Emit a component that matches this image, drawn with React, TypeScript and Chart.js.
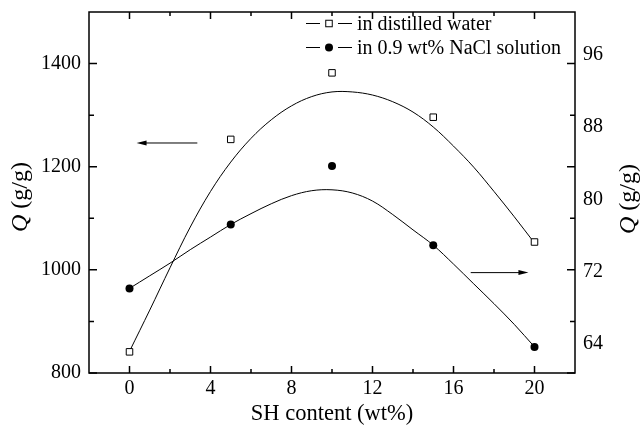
import React, { useEffect, useRef } from "react";
import { Chart, registerables } from "chart.js";

Chart.register(...registerables);

// ---- data ----
const sampleContent = [0, 5, 10, 15, 20];
const waterQ = [841, 1253, 1382, 1296, 1054];
const salineQ = [70.1, 77.2, 83.7, 74.9, 63.6];

const fitContent = [0, 1, 2, 3, 4, 5, 6, 7, 8, 9, 10, 11, 12, 13, 14, 15, 16, 17, 18, 19, 20];
const waterFit = [842, 922, 1004, 1083, 1152, 1209, 1255, 1291, 1318, 1336, 1345, 1345, 1339, 1326, 1306, 1277, 1240, 1199, 1152, 1103, 1052];
const salineFit = [70.1, 71.5, 72.9, 74.4, 75.8, 77.2, 78.4, 79.5, 80.4, 80.95, 81.05, 80.7, 79.8, 78.3, 76.6, 74.9, 72.8, 70.6, 68.4, 66.1, 63.6];

const xTickValues = [0, 4, 8, 12, 16, 20];
const leftTickValues = [800, 1000, 1200, 1400];
const rightTickValues = [64, 72, 80, 88, 96];

const legendLabels = ["in distilled water", "in 0.9 wt% NaCl solution"];
const xTitle = "SH content (wt%)";
const yTitleItalic = "Q";
const yTitleRest = " (g/g)";

// arrows pointing to the axis each series belongs to (data coordinates)
const leftArrow = { axis: "y", fromX: 3.35, toX: 0.35, value: 1246 };
const rightArrow = { axis: "y1", fromX: 16.85, toX: 19.7, value: 71.85 };

const FONT = '"Liberation Serif", "Times New Roman", Times, serif';

function minorValues(major: number[], min: number, max: number) {
  const step = major[1] - major[0];
  const half = step / 2;
  const out: number[] = [];
  for (let v = major[0] - half; v > min; v -= step) out.push(v);
  for (const m of major) {
    if (m + half < max) out.push(m + half);
  }
  return out;
}

const decor = {
  id: "decor",
  afterDraw(chart: any) {
    const { ctx, chartArea: a, scales } = chart;
    const sx = scales.x;
    const sy = scales.y;
    ctx.save();
    ctx.strokeStyle = "#000";
    ctx.fillStyle = "#000";

    // inward tick marks
    ctx.lineWidth = 1.5;
    const majLen = 7;
    const minLen = 4;
    const xMaj = sx.ticks.map((t: any) => t.value);
    const xMin = minorValues(xMaj, sx.min, sx.max);
    const drawX = (v: number, len: number) => {
      const p = sx.getPixelForValue(v);
      ctx.beginPath();
      ctx.moveTo(p, a.bottom);
      ctx.lineTo(p, a.bottom - len);
      ctx.moveTo(p, a.top);
      ctx.lineTo(p, a.top + len);
      ctx.stroke();
    };
    xMaj.forEach((v: number) => drawX(v, majLen));
    xMin.forEach((v: number) => drawX(v, minLen));

    const yMaj = sy.ticks.map((t: any) => t.value);
    const yMin = minorValues(yMaj, sy.min, sy.max);
    const drawY = (v: number, len: number) => {
      const p = sy.getPixelForValue(v);
      ctx.beginPath();
      ctx.moveTo(a.left, p);
      ctx.lineTo(a.left + len, p);
      ctx.moveTo(a.right, p);
      ctx.lineTo(a.right - len, p);
      ctx.stroke();
    };
    yMaj.forEach((v: number) => drawY(v, majLen + 1));
    yMin.forEach((v: number) => drawY(v, minLen + 1));

    // frame
    ctx.lineWidth = 1.5;
    ctx.strokeRect(a.left, a.top, a.right - a.left, a.bottom - a.top);

    // arrows
    const drawArrow = (ar: any) => {
      const s = scales[ar.axis];
      const py = s.getPixelForValue(ar.value);
      const x0 = sx.getPixelForValue(ar.fromX);
      const x1 = sx.getPixelForValue(ar.toX);
      const dir = Math.sign(x1 - x0);
      ctx.lineWidth = 1;
      ctx.beginPath();
      ctx.moveTo(x0, py);
      ctx.lineTo(x1 - dir * 6, py);
      ctx.stroke();
      ctx.beginPath();
      ctx.moveTo(x1, py);
      ctx.lineTo(x1 - dir * 10, py - 2.5);
      ctx.lineTo(x1 - dir * 10, py + 2.5);
      ctx.closePath();
      ctx.fill();
    };
    drawArrow(leftArrow);
    drawArrow(rightArrow);

    // legend
    const rows = [23.5, 47.5];
    ctx.font = `20px ${FONT}`;
    ctx.textBaseline = "middle";
    ctx.textAlign = "left";
    legendLabels.forEach((label, i) => {
      const yy = rows[i];
      ctx.lineWidth = 1;
      ctx.strokeStyle = "#000";
      ctx.beginPath();
      ctx.moveTo(306, yy);
      ctx.lineTo(320, yy);
      ctx.moveTo(338, yy);
      ctx.lineTo(352, yy);
      ctx.stroke();
      if (i === 0) {
        ctx.fillStyle = "#fff";
        ctx.fillRect(325.75, yy - 3.25, 6.5, 6.5);
        ctx.strokeRect(325.75, yy - 3.25, 6.5, 6.5);
      } else {
        ctx.fillStyle = "#000";
        ctx.beginPath();
        ctx.arc(329, yy, 4, 0, Math.PI * 2);
        ctx.fill();
      }
      ctx.fillStyle = "#000";
      ctx.fillText(label, 357, yy + 1);
    });

    // rotated y-axis titles with italic Q
    const drawYTitle = (cx: number, cy: number) => {
      ctx.save();
      ctx.translate(cx, cy);
      ctx.rotate(-Math.PI / 2);
      ctx.textBaseline = "middle";
      ctx.textAlign = "left";
      ctx.font = `italic 24px ${FONT}`;
      const w1 = ctx.measureText(yTitleItalic).width;
      ctx.font = `24px ${FONT}`;
      const w2 = ctx.measureText(yTitleRest).width;
      const start = -(w1 + w2) / 2;
      ctx.font = `italic 24px ${FONT}`;
      ctx.fillText(yTitleItalic, start, 0);
      ctx.font = `24px ${FONT}`;
      ctx.fillText(yTitleRest, start + w1, 0);
      ctx.restore();
    };
    drawYTitle(21, 197);
    drawYTitle(629, 199);

    ctx.restore();
  },
};

const noPad = (s: any) => {
  s.paddingTop = 0;
  s.paddingBottom = 0;
  s.paddingLeft = 0;
  s.paddingRight = 0;
};

export default function App() {
  const ref = useRef<HTMLCanvasElement>(null);

  useEffect(() => {
    const tickFont = { family: FONT, size: 20 };
    const plain = (v: any) => String(v);
    const chart = new Chart(ref.current as HTMLCanvasElement, {
      type: "scatter",
      data: {
        datasets: [
          {
            label: legendLabels[0],
            data: sampleContent.map((x, i) => ({ x, y: waterQ[i] })),
            yAxisID: "y",
            pointStyle: "rect",
            pointRadius: 4.6,
            pointBorderWidth: 1,
            pointBorderColor: "#000",
            pointBackgroundColor: "#fff",
            showLine: false,
            order: 0,
          },
          {
            label: legendLabels[1],
            data: sampleContent.map((x, i) => ({ x, y: salineQ[i] })),
            yAxisID: "y1",
            pointStyle: "circle",
            pointRadius: 4,
            pointBorderWidth: 0,
            pointBorderColor: "#000",
            pointBackgroundColor: "#000",
            showLine: false,
            order: 0,
          },
          {
            label: "fit water",
            data: fitContent.map((x, i) => ({ x, y: waterFit[i] })),
            yAxisID: "y",
            showLine: true,
            pointRadius: 0,
            borderColor: "#000",
            borderWidth: 1,
            tension: 0.35,
            order: 1,
          },
          {
            label: "fit saline",
            data: fitContent.map((x, i) => ({ x, y: salineFit[i] })),
            yAxisID: "y1",
            showLine: true,
            pointRadius: 0,
            borderColor: "#000",
            borderWidth: 1,
            tension: 0.35,
            order: 1,
          },
        ],
      },
      options: {
        responsive: false,
        animation: false,
        events: [],
        layout: { padding: { top: 12, left: 0, right: 0, bottom: 0 } },
        plugins: {
          legend: { display: false },
          tooltip: { enabled: false },
        },
        scales: {
          x: {
            type: "linear",
            position: "bottom",
            min: -2,
            max: 22,
            afterBuildTicks: (s: any) => {
              s.ticks = xTickValues.map((value) => ({ value }));
            },
            ticks: { font: tickFont, color: "#000", padding: 4, maxRotation: 0, autoSkip: false, callback: plain },
            grid: { display: false, drawTicks: false },
            border: { display: false },
            title: {
              display: true,
              text: xTitle,
              color: "#000",
              font: { family: FONT, size: 22.5, lineHeight: 1 },
              padding: { top: 0, bottom: 0 },
            },
            afterFit: (s: any) => {
              s.height = 52;
              noPad(s);
            },
          },
          y: {
            type: "linear",
            position: "left",
            min: 800,
            max: 1500,
            afterBuildTicks: (s: any) => {
              s.ticks = leftTickValues.map((value) => ({ value }));
            },
            ticks: { font: tickFont, color: "#000", padding: 8, autoSkip: false, callback: plain },
            grid: { display: false, drawTicks: false },
            border: { display: false },
            afterFit: (s: any) => {
              s.width = 89;
              noPad(s);
            },
          },
          y1: {
            type: "linear",
            position: "right",
            min: 60.7,
            max: 100.8,
            afterBuildTicks: (s: any) => {
              s.ticks = rightTickValues.map((value) => ({ value }));
            },
            ticks: { font: tickFont, color: "#000", padding: 8, autoSkip: false, callback: plain },
            grid: { display: false, drawTicks: false },
            border: { display: false },
            afterFit: (s: any) => {
              s.width = 68;
              noPad(s);
            },
          },
        },
      } as any,
      plugins: [decor],
    });
    return () => chart.destroy();
  }, []);

  return (
    <div style={{ position: "absolute", left: 0, top: 0, width: 643, height: 425, background: "#fff" }}>
      <canvas ref={ref} width={643} height={425} style={{ display: "block" }} />
    </div>
  );
}
